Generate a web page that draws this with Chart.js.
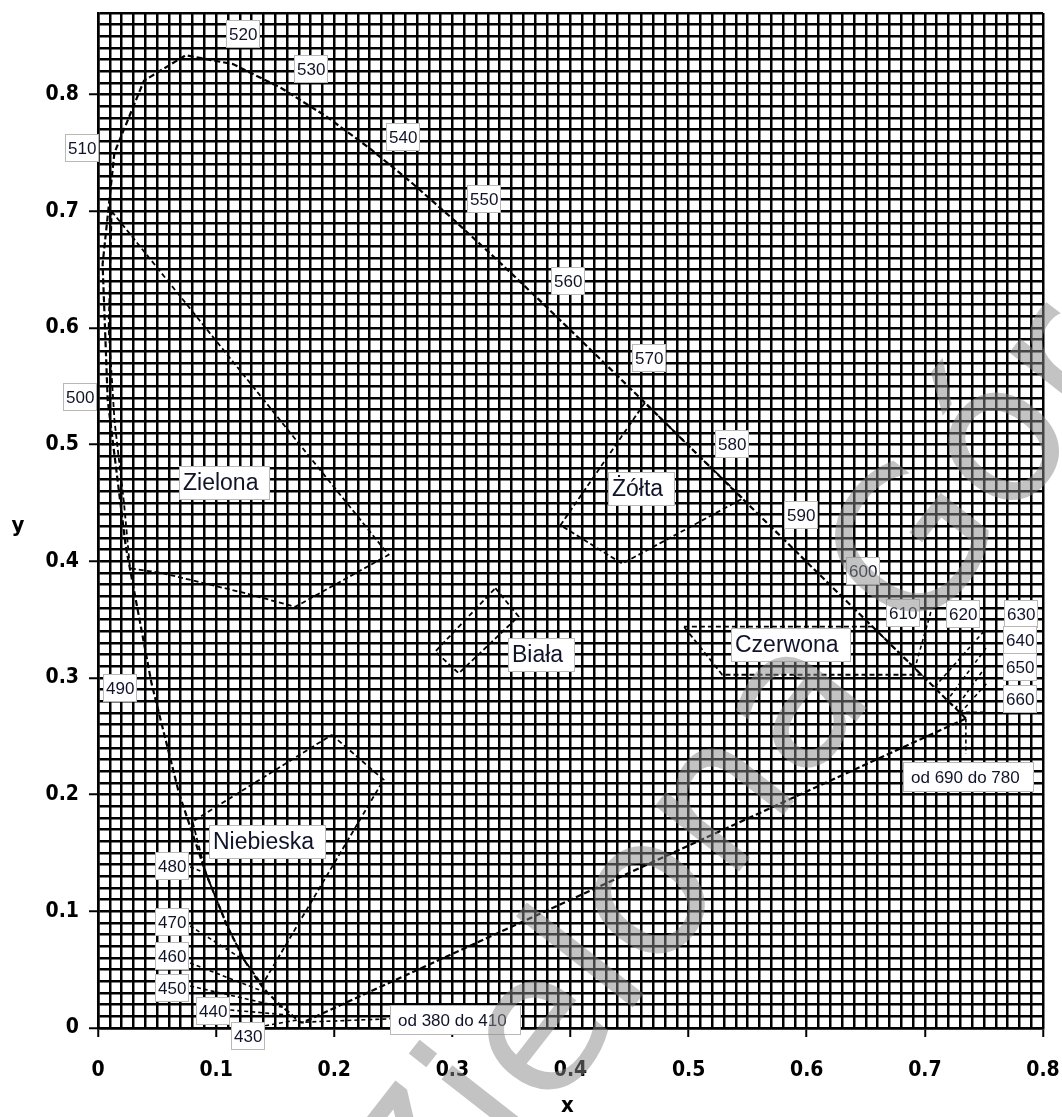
<!DOCTYPE html>
<html><head><meta charset="utf-8">
<script src="https://cdn.jsdelivr.net/npm/chart.js@4/dist/chart.umd.min.js"></script>
<style>html,body{margin:0;padding:0;background:#fff}#wrap{position:relative;width:1062px;height:1117px}</style>
</head><body><div id="wrap"><canvas id="c"></canvas></div>
<script>
// ---- data ----
const locusWavelengths = [380,385,390,395,400,405,410,415,420,425,430,435,440,445,450,455,460,465,470,475,480,485,490,495,500,505,510,515,520,525,530,535,540,545,550,555,560,565,570,575,580,585,590,595,600,605,610,615,620,625,630,635,640,645,650,655,660,665,670,680,690,700];
const locusX = [0.1741,0.1740,0.1738,0.1736,0.1733,0.1730,0.1726,0.1721,0.1714,0.1703,0.1689,0.1669,0.1644,0.1611,0.1566,0.1510,0.1440,0.1355,0.1241,0.1096,0.0913,0.0687,0.0454,0.0235,0.0082,0.0039,0.0139,0.0389,0.0743,0.1142,0.1547,0.1929,0.2296,0.2658,0.3016,0.3373,0.3731,0.4087,0.4441,0.4788,0.5125,0.5448,0.5752,0.6029,0.6270,0.6482,0.6658,0.6801,0.6915,0.7006,0.7079,0.7140,0.7190,0.7230,0.7260,0.7283,0.7300,0.7311,0.7320,0.7334,0.7344,0.7347];
const locusY = [0.0050,0.0050,0.0049,0.0049,0.0048,0.0048,0.0048,0.0048,0.0051,0.0058,0.0069,0.0086,0.0109,0.0138,0.0177,0.0227,0.0297,0.0399,0.0578,0.0868,0.1327,0.2007,0.2950,0.4127,0.5384,0.6548,0.7502,0.8120,0.8338,0.8262,0.8059,0.7816,0.7543,0.7243,0.6923,0.6589,0.6245,0.5896,0.5547,0.5202,0.4866,0.4544,0.4242,0.3965,0.3725,0.3514,0.3340,0.3197,0.3083,0.2993,0.2920,0.2859,0.2809,0.2770,0.2740,0.2717,0.2700,0.2689,0.2680,0.2666,0.2656,0.2653];
const purpleLineX = [0.7347, 0.1741];
const purpleLineY = [0.2653, 0.0050];

const greenX  = [0.0116, 0.246, 0.167, 0.1246, 0.0907, 0.054, 0.0271, 0.022, 0.014, 0.009, 0.0116];
const greenY  = [0.700, 0.4056, 0.361, 0.3727, 0.381, 0.390, 0.394, 0.45, 0.52, 0.60, 0.700];
const yellowX = [0.463, 0.3915, 0.4438, 0.546, 0.5125, 0.4788, 0.463];
const yellowY = [0.536, 0.431, 0.398, 0.454, 0.4866, 0.5202, 0.536];
const whiteX  = [0.3364, 0.356, 0.3054, 0.2856, 0.3364];
const whiteY  = [0.377, 0.3528, 0.304, 0.3228, 0.377];
const redX    = [0.496, 0.6557, 0.6658, 0.6801, 0.6915, 0.697, 0.5285, 0.496];
const redY    = [0.344, 0.344, 0.334, 0.3197, 0.3083, 0.3028, 0.3028, 0.344];
const blueX   = [0.198, 0.2418, 0.139, 0.1241, 0.1096, 0.0913, 0.080, 0.198];
const blueY   = [0.2513, 0.2128, 0.037, 0.0578, 0.0868, 0.1327, 0.177, 0.2513];

const xTickLabels = ['0','0.1','0.2','0.3','0.4','0.5','0.6','0.7','0.8'];
const yTickLabels = ['0','0.1','0.2','0.3','0.4','0.5','0.6','0.7','0.8'];

const wlLabelText = ['520','530','510','540','550','560','570','580','590','600','610','620','630','640','650','660','od 690 do 780','500','490','480','470','460','450','440','430','od 380 do 410'];
const wlLabelX = [0.1224,0.1804,-0.0135,0.2578,0.3268,0.398,0.4666,0.5368,0.5953,0.6478,0.6816,0.7324,0.7816,0.7807,0.7807,0.7807,0.7367,-0.0152,0.0186,0.0627,0.0627,0.0627,0.0627,0.0974,0.127,0.3023];
const wlLabelY = [0.8522,0.8222,0.7543,0.7637,0.7105,0.640,0.574,0.5009,0.4399,0.3918,0.3557,0.3548,0.3548,0.3325,0.3093,0.2818,0.2148,0.5412,0.2912,0.1392,0.0911,0.0619,0.0344,0.0146,-0.0069,0.0069];

const regionLabelText = ['Zielona','Żółta','Biała','Czerwona','Niebieska'];
const regionLabelX = [0.1075, 0.4598, 0.3751, 0.5868, 0.1431];
const regionLabelY = [0.4674, 0.4622, 0.3196, 0.3282, 0.1598];

const leaderFromX = [0.078, 0.078, 0.078, 0.078, 0.112, 0.1415, 0.25, 0.705, 0.750, 0.7517, 0.7517, 0.752, 0.750, 0.7347];
const leaderFromY = [0.138, 0.0874, 0.0557, 0.036, 0.0154, 0.002, 0.008, 0.3565, 0.340, 0.3256, 0.310, 0.295, 0.2706, 0.2653];
const leaderToX   = [0.0913, 0.1241, 0.1440, 0.1566, 0.1644, 0.1689, 0.1741, 0.6915, 0.7079, 0.7190, 0.7260, 0.7300, 0.7325, 0.7347];
const leaderToY   = [0.1327, 0.0578, 0.0297, 0.0177, 0.0109, 0.0069, 0.0050, 0.3083, 0.2920, 0.2809, 0.2740, 0.2700, 0.2706, 0.235];

// ---- helpers / styles ----
function pts(xs, ys){ return xs.map((v,i)=>({x:v, y:ys[i]})); }
const locusStyle  = {showLine:true, pointRadius:0, borderColor:'#000', borderWidth:2.2, borderDash:[6,3], fill:false, tension:0};
const regionStyle = {showLine:true, pointRadius:0, borderColor:'#000', borderWidth:1.8, borderDash:[5,3], fill:false, tension:0};
const leaderStyle = {showLine:true, pointRadius:0, borderColor:'#000', borderWidth:1.6, borderDash:[4,3], fill:false, tension:0};

const datasets = [
  {...locusStyle, data: pts(locusX, locusY)},
  {...locusStyle, data: pts(purpleLineX, purpleLineY)},
  {...regionStyle, data: pts(greenX, greenY)},
  {...regionStyle, data: pts(yellowX, yellowY)},
  {...regionStyle, data: pts(whiteX, whiteY)},
  {...regionStyle, data: pts(redX, redY)},
  {...regionStyle, data: pts(blueX, blueY)}
];
leaderFromX.forEach((v,i)=>{
  datasets.push({...leaderStyle, data: pts([v, leaderToX[i]], [leaderFromY[i], leaderToY[i]])});
});

const TICK_FONT = {family:"'DejaVu Sans Condensed','DejaVu Sans',sans-serif", size:21, weight:'bold'};
function majorLabel(labels){
  return function(v){ const k = Math.round(v*100); return (k % 10 === 0) ? labels[k/10] : ''; };
}
function tickCol(ctx){
  const v = ctx.tick ? ctx.tick.value : 0;
  return (Math.round(v*100) % 10 === 0) ? '#000' : 'rgba(0,0,0,0)';
}

const annotPlugin = {
  id:'annot',
  afterDatasetsDraw(chart){
    const {ctx, scales:{x, y}} = chart;
    ctx.save();
    function box(text, dx, dy, font, padL, padR, h){
      ctx.font = font;
      const w = Math.round(ctx.measureText(text).width + padL + padR);
      const cx = x.getPixelForValue(dx), cy = y.getPixelForValue(dy);
      const left = Math.round(cx - w/2), top = Math.round(cy - h/2);
      ctx.fillStyle = '#fff'; ctx.fillRect(left, top, w, h);
      ctx.strokeStyle = '#b8b8b8'; ctx.lineWidth = 1; ctx.setLineDash([]);
      ctx.strokeRect(left+0.5, top+0.5, w-1, h-1);
      ctx.fillStyle = '#10142a'; ctx.textBaseline = 'middle'; ctx.textAlign = 'left';
      ctx.fillText(text, left+padL, top+h/2+1);
    }
    wlLabelText.forEach((t,i)=>{
      const long = t.length > 4;
      box(t, wlLabelX[i], wlLabelY[i], "17px 'Liberation Sans', Arial, sans-serif", long?8:3, long?14:3, long?30:28);
    });
    regionLabelText.forEach((t,i)=>{
      box(t, regionLabelX[i], regionLabelY[i], "23px 'Liberation Sans', Arial, sans-serif", 4, 12, 34);
    });
    ctx.restore();
  },
  afterDraw(chart){
    const {ctx, chartArea} = chart;
    ctx.save();
    ctx.fillStyle = '#000';
    ctx.font = "bold 22px 'DejaVu Sans Condensed','DejaVu Sans',sans-serif";
    ctx.textAlign = 'center'; ctx.textBaseline = 'middle';
    ctx.fillText('y', 18, 526);
    ctx.fillText('x', (chartArea.left + chartArea.right)/2 - 3, 1106);
    // watermark
    ctx.translate(650, 900);
    ctx.rotate(-52*Math.PI/180);
    ctx.font = "195px 'DejaVu Sans', sans-serif";
    const pre = ctx.measureText('Ziel').width + ctx.measureText('o').width/2;
    ctx.fillStyle = 'rgba(135,135,135,0.5)';
    ctx.textAlign = 'left'; ctx.textBaseline = 'alphabetic';
    ctx.fillText('Zielona Góra', -pre, 0.27*195);
    ctx.restore();
  }
};

new Chart(document.getElementById('c'), {
  type:'scatter',
  data:{datasets},
  options:{
    responsive:true, maintainAspectRatio:false, animation:false,
    layout:{padding:{left:0, top:13, right:19, bottom:0}},
    plugins:{legend:{display:false}, tooltip:{enabled:false}},
    scales:{
      x:{type:'linear', min:0, max:0.8,
        afterFit(s){ s.height = 89; s.paddingLeft = 0; s.paddingRight = 0; },
        ticks:{stepSize:0.01, autoSkip:false, maxRotation:0, minRotation:0, padding:21, color:'#000', font:TICK_FONT, callback: majorLabel(xTickLabels)},
        grid:{color:'#000', lineWidth:2.5, drawTicks:true, tickLength:9, tickWidth:2, tickColor: tickCol},
        border:{color:'#000', width:2.5}
      },
      y:{type:'linear', min:0, max:0.87,
        afterFit(s){ s.width = 98; s.paddingTop = 0; s.paddingBottom = 0; },
        ticks:{stepSize:0.01, autoSkip:false, padding:10, color:'#000', font:TICK_FONT, callback: majorLabel(yTickLabels)},
        grid:{color:'#000', lineWidth:2.5, drawTicks:true, tickLength:9, tickWidth:2, tickColor: tickCol},
        border:{color:'#000', width:2.5}
      }
    }
  },
  plugins:[annotPlugin]
});
</script>
</body></html>
